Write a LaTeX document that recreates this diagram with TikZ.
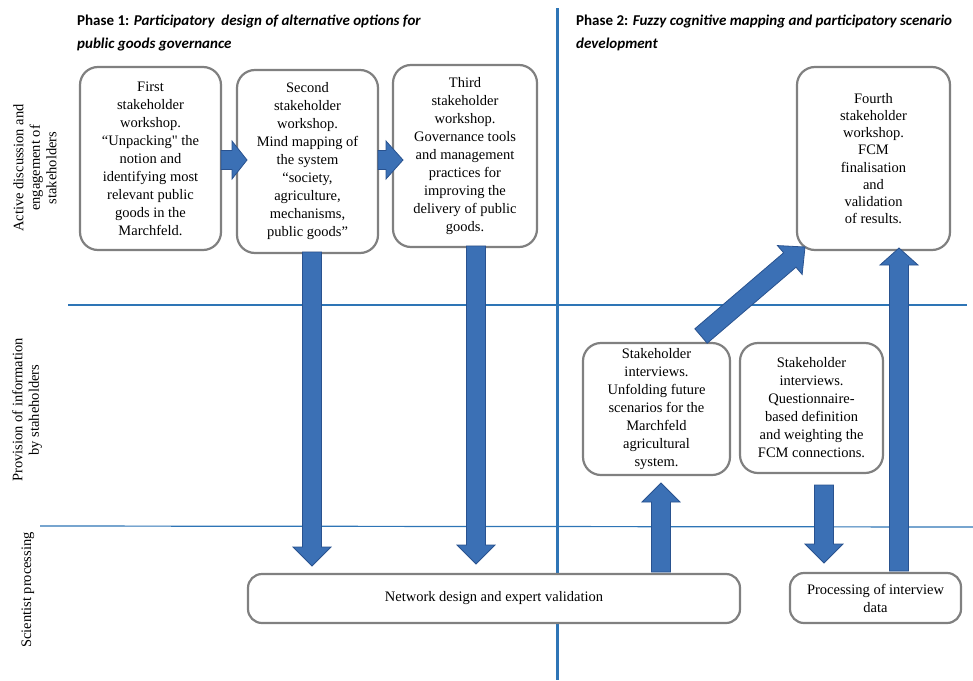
\documentclass[tikz,border=0pt]{standalone}
\usepackage{fontspec}
\setmainfont{Liberation Serif}
\newfontfamily\headfont{Carlito}
\usetikzlibrary{calc}

\definecolor{laneblue}{RGB}{46,117,182}
\definecolor{arrowfill}{RGB}{59,112,181}
\definecolor{arrowedge}{RGB}{41,82,143}
\definecolor{boxgrey}{RGB}{128,128,128}

\newcommand{\blockarrow}[3][19pt]{%
  \coordinate (ah) at ($(#3)!#1!(#2)$);
  \draw [arrowbody] ($(#2)!9.5pt!90:(#3)$) -- ($(ah)!9.5pt!-90:(#2)$) -- ($(ah)!19pt!-90:(#2)$) -- (#3)
    -- ($(ah)!19pt!90:(#2)$) -- ($(ah)!9.5pt!90:(#2)$) -- ($(#2)!9.5pt!-90:(#3)$) -- cycle;}

\begin{document}
\begin{tikzpicture}[x=1pt, y=-1pt,
    stagebox/.style={draw=boxgrey, line width=2.2pt, rounded corners=18pt, fill=white, align=center, inner sep=0pt, font=\fontsize{14.5}{18}\selectfont},
    lanelabel/.style={rotate=90, align=center, inner sep=0pt, font=\fontsize{14.5}{16.5}\selectfont},
    phasehead/.style={anchor=north west, align=left, inner sep=0pt, font=\headfont\bfseries\fontsize{15}{23}\selectfont},
    arrowbody/.style={fill=arrowfill, draw=arrowedge, line width=0.8pt, line join=miter}]
    \useasboundingbox (0,0) rectangle (973,680);

    \draw [laneblue, line width=3pt] (557,8) -- (557,680);
    \draw [laneblue, line width=1.2pt] (68,305) -- (967,305);
    \draw [laneblue, line width=1.2pt] (40,526) -- (973,527);

    \node [phasehead] (head1) at (77,15) {Phase 1: \textit{Participatory\ \ design of alternative options for}\\\textit{public goods governance}};
    \node [phasehead] (head2) at (576,15) {Phase 2: \textit{Fuzzy cognitive mapping and participatory scenario}\\\textit{development}};

    \node [lanelabel] (lane1) at (35,168) {Active discussion and\\engagement of\\stakeholders};
    \node [lanelabel] (lane2) at (27,410) {Provision of information\\by staheholders};
    \node [lanelabel] (lane3) at (28,590) {Scientist processing};

    \node [stagebox, minimum width=141pt, minimum height=183pt] (ws1) at (150.5,158.5) {First\\stakeholder\\workshop.\\“Unpacking\textquotedbl{} the\\notion and\\identifying most\\relevant public\\goods in the\\Marchfeld.};
    \node [stagebox, minimum width=141pt, minimum height=183pt] (ws2) at (307.5,161.5) {Second\\stakeholder\\workshop.\\Mind mapping of\\the system\\“society,\\agriculture,\\mechanisms,\\public goods”};
    \node [stagebox, minimum width=144pt, minimum height=182pt] (ws3) at (465,156) {Third\\stakeholder\\workshop.\\Governance tools\\and management\\practices for\\improving the\\delivery of public\\goods.};
    \node [stagebox, minimum width=153pt, minimum height=183pt, font=\fontsize{14.5}{17.2}\selectfont] (ws4) at (873.5,158.5) {Fourth\\stakeholder\\workshop.\\FCM\\finalisation\\and\\validation\\of results.};
    \node [stagebox, minimum width=147pt, minimum height=132pt] (int1) at (656.5,409) {Stakeholder\\interviews.\\Unfolding future\\scenarios for the\\Marchfeld\\agricultural\\system.};
    \node [stagebox, minimum width=143pt, minimum height=130pt] (int2) at (811.5,408) {Stakeholder\\interviews.\\Questionnaire-\\based definition\\and weighting the\\FCM connections.};
    \node [stagebox, minimum width=492pt, minimum height=49pt, rounded corners=14pt] (net) at (494,598.5) {Network design and expert validation};
    \node [stagebox, minimum width=171pt, minimum height=50pt, rounded corners=14pt] (proc) at (875.5,598) {Processing of interview\\data};

    \coordinate (r1a) at (221,160);
    \coordinate (r1b) at (247,160);
    \coordinate (r2a) at (378,160);
    \coordinate (r2b) at (403,160);
    \coordinate (d1a) at (312,252);
    \coordinate (d1b) at (312,566);
    \coordinate (d2a) at (476,246);
    \coordinate (d2b) at (476,564);
    \coordinate (u1a) at (661,572);
    \coordinate (u1b) at (661,483);
    \coordinate (d3a) at (824,485);
    \coordinate (d3b) at (824,563);
    \coordinate (u2a) at (899,571);
    \coordinate (u2b) at (899,248);
    \coordinate (g1a) at (701,336);
    \coordinate (g1b) at (805,247);

    \blockarrow[15pt]{r1a}{r1b}
    \blockarrow[17pt]{r2a}{r2b}
    \blockarrow{d1a}{d1b}
    \blockarrow{d2a}{d2b}
    \blockarrow{u1a}{u1b}
    \blockarrow{d3a}{d3b}
    \blockarrow[17pt]{u2a}{u2b}
    \blockarrow[20pt]{g1a}{g1b}
\end{tikzpicture}
\end{document}
